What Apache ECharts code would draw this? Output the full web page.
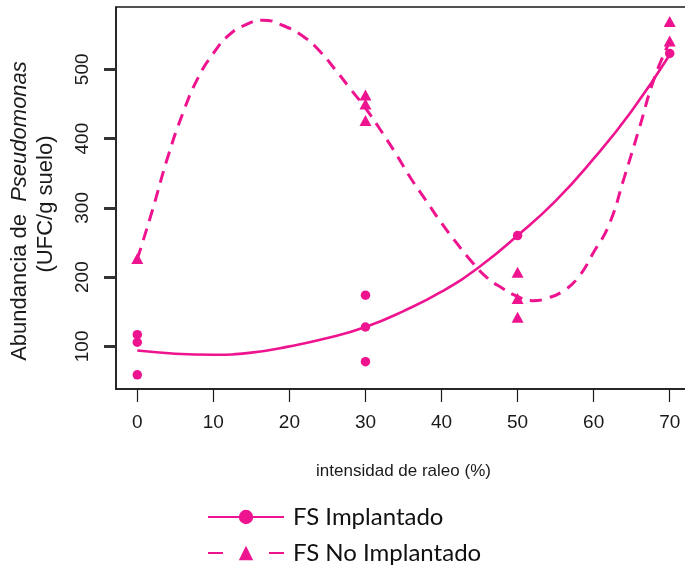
<!DOCTYPE html>
<html>
<head>
<meta charset="utf-8">
<script src="https://cdn.jsdelivr.net/npm/echarts@6/dist/echarts.min.js"></script>
<style>
  html, body { margin: 0; padding: 0; background: #fff; overflow: hidden; }
  /* the plotting region runs a few pixels past the right edge of the page */
  #chart { width: 691px; height: 570px; }
</style>
</head>
<body>
<div id="chart"></div>
<script>
// Observed counts, FS Implantado (circles)
const obsImplX = [0, 0, 0, 30, 30, 30, 50, 70];
const obsImplY = [117, 106, 59, 174, 128, 78, 260, 523];

// Observed counts, FS No Implantado (triangles)
const obsNoImplX = [0, 30, 30, 30, 50, 50, 50, 70, 70];
const obsNoImplY = [227, 463, 450, 426, 207, 169, 142, 569, 541];

// Fitted trend, FS Implantado
const fitImplX = [0, 5, 10, 15, 20, 25, 30, 35, 40, 45, 50, 55, 60, 65, 70];
const fitImplY = [94, 89.5, 88, 91, 100, 112, 128, 151, 179, 215, 260, 310, 371, 440, 521];

// Fitted trend, FS No Implantado
const fitNoImplX = [0, 2, 4, 6, 8, 10, 12, 14, 16.5, 19, 22, 24, 26, 28, 30, 32, 34, 36, 38, 40,
                    42, 44, 46, 48, 50, 52, 54, 56, 58, 60, 62, 64, 66, 68, 70];
const fitNoImplY = [226, 297, 373, 437, 488, 523, 549, 563, 571, 564, 546, 526, 500, 472, 444, 412, 378, 342, 310, 278,
                    249, 222, 199, 184, 172, 166, 170, 180, 200, 236, 275, 343, 415, 488, 540];

// Axis ticks
const xTicks = [0, 10, 20, 30, 40, 50, 60, 70];
const yTicks = [100, 200, 300, 400, 500];

const seriesNames = ['FS Implantado', 'FS No Implantado'];

const PINK = '#EE1490';
const INK = '#1a1a1a';
const AXIS_FONT = '"Liberation Sans", Arial, sans-serif';

const zip = (xs, ys) => xs.map((x, i) => [x, ys[i]]);

const chart = echarts.init(document.getElementById('chart'), null, { renderer: 'canvas' });

chart.setOption({
  animation: false,
  backgroundColor: '#fff',
  grid: {
    left: 116, top: 7, right: 0, bottom: 181,
    show: true, borderColor: INK, borderWidth: 1.5, backgroundColor: 'transparent'
  },
  xAxis: {
    type: 'value', min: -2.8, max: 72.8,
    axisLine: { show: true, onZero: false, lineStyle: { color: INK, width: 1.5 } },
    splitLine: { show: false },
    axisTick: {
      show: true, length: 13, customValues: xTicks,
      lineStyle: { color: INK, width: 1.2 }
    },
    axisLabel: {
      customValues: xTicks, margin: 24,
      color: INK, fontFamily: AXIS_FONT, fontSize: 19
    },
    name: 'intensidad de raleo (%)',
    nameLocation: 'middle', nameGap: 74,
    nameTextStyle: { color: INK, fontFamily: AXIS_FONT, fontSize: 17 }
  },
  yAxis: {
    type: 'value', min: 38.5, max: 590,
    axisLine: { show: true, onZero: false, lineStyle: { color: INK, width: 1.5 } },
    splitLine: { show: false },
    axisTick: {
      show: true, length: 12, customValues: yTicks,
      lineStyle: { color: '#333', width: 3 }
    },
    axisLabel: {
      customValues: yTicks, rotate: 90, margin: 24,
      color: INK, fontFamily: AXIS_FONT, fontSize: 19
    }
  },
  legend: {
    orient: 'vertical', left: 207, top: 505, height: 120, padding: 0,
    itemWidth: 76, itemHeight: 18, itemGap: 12,
    textStyle: {
      color: '#111', fontFamily: 'Lato, "Open Sans", sans-serif', fontSize: 24,
      padding: [0, 0, 0, 4]
    },
    data: [
      { name: seriesNames[0] },
      { name: seriesNames[1], lineStyle: { type: [15, 46], dashOffset: 0 } }
    ]
  },
  graphic: [
    {
      type: 'text', x: 20, y: 211, rotation: Math.PI / 2, silent: true,
      style: {
        text: '{n|Abundancia de  }{i|Pseudomonas}',
        textAlign: 'center', textVerticalAlign: 'middle',
        rich: {
          n: { fontFamily: AXIS_FONT, fontSize: 22, fill: INK },
          i: { fontFamily: AXIS_FONT, fontSize: 22, fontStyle: 'italic', fill: INK }
        }
      }
    },
    {
      type: 'text', x: 46, y: 204, rotation: Math.PI / 2, silent: true,
      style: {
        text: '(UFC/g suelo)', fontFamily: AXIS_FONT, fontSize: 22, fill: INK,
        textAlign: 'center', textVerticalAlign: 'middle'
      }
    }
  ],
  series: [
    {
      name: seriesNames[0], type: 'line', smooth: true,
      data: zip(fitImplX, fitImplY),
      symbol: 'circle', symbolSize: 12, showSymbol: false,
      lineStyle: { color: PINK, width: 2.6 },
      itemStyle: { color: PINK },
      z: 3
    },
    {
      name: seriesNames[1], type: 'line', smooth: true,
      data: zip(fitNoImplX, fitNoImplY),
      symbol: 'triangle', symbolSize: 12, showSymbol: false,
      lineStyle: { color: PINK, width: 3, type: [12, 8] },
      itemStyle: { color: PINK },
      z: 3
    },
    {
      name: 'obsImpl', type: 'scatter',
      data: zip(obsImplX, obsImplY),
      symbol: 'circle', symbolSize: 9.5,
      itemStyle: { color: PINK, opacity: 1 },
      z: 4
    },
    {
      name: 'obsNoImpl', type: 'scatter',
      data: zip(obsNoImplX, obsNoImplY),
      symbol: 'triangle', symbolSize: [12, 11],
      itemStyle: { color: PINK, opacity: 1 },
      z: 4
    }
  ]
});
</script>
</body>
</html>
